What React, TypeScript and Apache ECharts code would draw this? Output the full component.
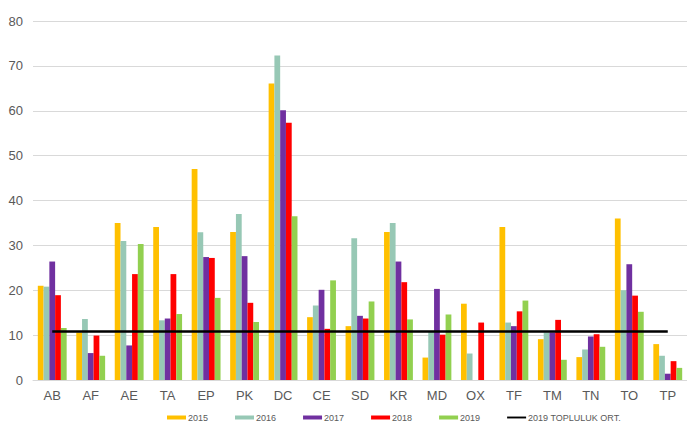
import React, { useEffect, useRef } from "react";
import * as echarts from "echarts";

const categories = ["AB", "AF", "AE", "TA", "EP", "PK", "DC", "CE", "SD", "KR", "MD", "OX", "TF", "TM", "TN", "TO", "TP"];
const s2015 = [21.0, 10.6, 35.0, 34.1, 47.0, 33.0, 66.1, 14.0, 12.0, 33.0, 5.0, 17.0, 34.1, 9.1, 5.1, 36.0, 8.0];
const s2016 = [20.8, 13.6, 31.0, 13.3, 32.9, 37.0, 72.3, 16.6, 31.6, 35.0, 10.7, 5.9, 12.8, 10.6, 6.8, 20.0, 5.4];
const s2017 = [26.4, 6.0, 7.7, 13.7, 27.4, 27.6, 60.1, 20.1, 14.3, 26.4, 20.3, 0, 12.0, 10.6, 9.7, 25.8, 1.4];
const s2018 = [18.9, 9.9, 23.6, 23.6, 27.2, 17.2, 57.3, 11.4, 13.7, 21.8, 10.1, 12.8, 15.3, 13.4, 10.2, 18.8, 4.2];
const s2019 = [11.6, 5.4, 30.3, 14.7, 18.3, 12.9, 36.5, 22.2, 17.5, 13.5, 14.6, 0, 17.7, 4.5, 7.4, 15.2, 2.7];
const avgValue = 10.8;
const avgLine = categories.map(() => avgValue);
const seriesNames = ["2015", "2016", "2017", "2018", "2019"];
const lineName = "2019 TOPLULUK ORT.";
const colors = ["#FFC000", "#97C8B5", "#7030A0", "#FF0000", "#92D050"];

export default function App() {
  const ref = useRef<HTMLDivElement>(null);
  useEffect(() => {
    if (!ref.current) return;
    const chart = echarts.init(ref.current, null, { renderer: "svg" });
    const barData = [s2015, s2016, s2017, s2018, s2019];
    const font = "'Liberation Sans', Arial, sans-serif";
    chart.setOption({
      animation: false,
      backgroundColor: "#fff",
      grid: { left: 33, top: 21, width: 655, height: 359, containLabel: false },
      legend: {
        left: 162,
        top: 408,
        itemWidth: 19,
        itemHeight: 4,
        itemGap: 27,
        textStyle: { fontSize: 9, color: "#595959", fontFamily: font, padding: [0, 0, 0, -3] },
        data: [
          ...seriesNames.map((n) => ({ name: n, icon: "rect" })),
          { name: lineName, icon: "path://M0,0 L24,0 L24,2.4 L0,2.4 Z", itemStyle: { color: "#000" } },
        ],
      },
      xAxis: {
        type: "category",
        data: categories,
        axisLine: { lineStyle: { color: "#D9D9D9", width: 1 } },
        axisTick: { show: false },
        axisLabel: { fontSize: 13, color: "#595959", fontFamily: font, margin: 9 },
      },
      yAxis: {
        type: "value",
        min: 0,
        max: 80,
        interval: 10,
        axisLine: { show: false },
        axisTick: { show: false },
        splitLine: { lineStyle: { color: "#D9D9D9", width: 1 } },
        axisLabel: { fontSize: 13, color: "#595959", fontFamily: font, margin: 10 },
      },
      series: [
        ...seriesNames.map((n, i) => ({
          name: n,
          type: "bar",
          data: barData[i],
          itemStyle: { color: colors[i] },
          barGap: "0%",
          barCategoryGap: "25%",
        })),
        {
          name: lineName,
          type: "line",
          data: avgLine,
          symbol: "none",
          lineStyle: { color: "#000", width: 2.5 },
          itemStyle: { color: "#000" },
          z: 5,
        },
      ],
    });
    return () => chart.dispose();
  }, []);
  return (
    <div
      ref={ref}
      style={{ position: "fixed", left: 0, top: 0, width: 687, height: 426, background: "#fff" }}
    />
  );
}
